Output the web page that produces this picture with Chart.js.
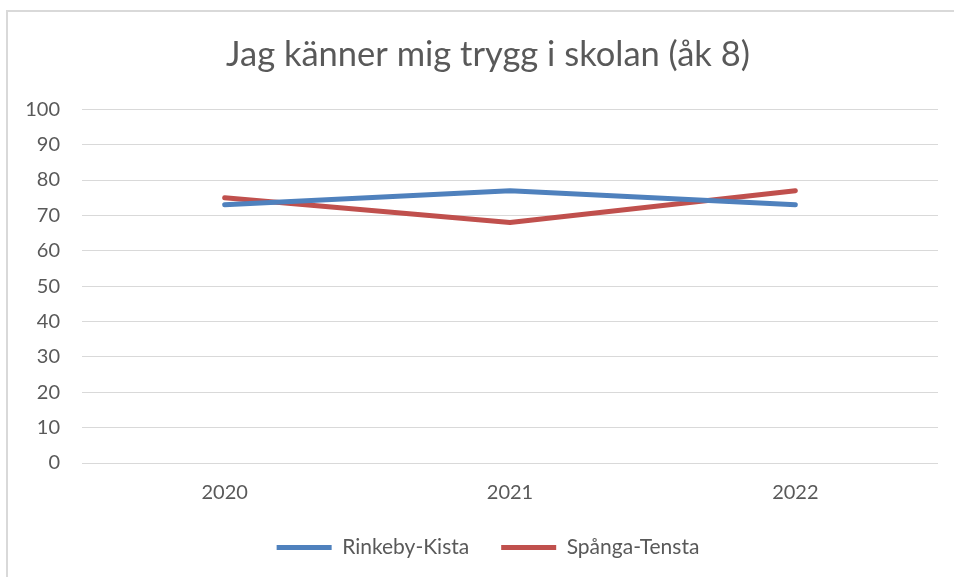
<!DOCTYPE html>
<html lang="sv">
<head>
<meta charset="utf-8">
<title>Jag känner mig trygg i skolan (åk 8)</title>
<script src="https://cdn.jsdelivr.net/npm/chart.js@4.4.1/dist/chart.umd.min.js"></script>
<style>
  html, body { margin: 0; padding: 0; background: #fff; overflow: hidden; }
  #wrap { position: relative; width: 954px; height: 577px; }
  #frame { position: absolute; left: 6px; top: 10px; width: 1000px; height: 600px; border: 2px solid #d9d9d9; box-sizing: border-box; }
  #graf { position: absolute; left: 0; top: 0; }
</style>
</head>
<body>
<div id="wrap">
  <div id="frame"></div>
  <canvas id="graf" width="954" height="577"></canvas>
</div>
<script>
// ── Data ─────────────────────────────
const years        = ['2020', '2021', '2022'];
const rinkebyKista = [73, 77, 73];
const spangaTensta = [75, 68, 77];
const yMin = 0, yMax = 100, yStep = 10;

const TEXT = '#595959';
const GRID = '#d9d9d9';
const FONT = 'Lato, "Open Sans", sans-serif';

new Chart(document.getElementById('graf'), {
  type: 'line',
  data: {
    labels: years,
    datasets: [
      {
        label: 'Rinkeby-Kista',
        data: rinkebyKista,
        borderColor: '#4F81BD',
        backgroundColor: '#4F81BD',
        borderWidth: 5,
        borderCapStyle: 'round',
        borderJoinStyle: 'round',
        pointRadius: 0,
        tension: 0,
      },
      {
        label: 'Spånga-Tensta',
        data: spangaTensta,
        borderColor: '#C0504D',
        backgroundColor: '#C0504D',
        borderWidth: 5,
        borderCapStyle: 'round',
        borderJoinStyle: 'round',
        pointRadius: 0,
        tension: 0,
      }
    ]
  },
  options: {
    responsive: false,
    animation: false,
    layout: { padding: { left: 22, right: 0, top: 0, bottom: 9 } },
    plugins: {
      title: {
        display: true,
        text: 'Jag känner mig trygg i skolan (åk 8)',
        color: TEXT,
        font: { family: FONT, size: 34.5, weight: 'normal' },
        padding: { top: 34.3, bottom: 33.6 }
      },
      legend: {
        position: 'bottom',
        labels: {
          color: TEXT,
          font: { family: FONT, size: 21 },
          usePointStyle: true,
          pointStyle: 'line',
          pointStyleWidth: 55,
          padding: 32
        }
      },
      tooltip: { enabled: false }
    },
    scales: {
      x: {
        offset: true,
        grid: { display: false, drawTicks: false },
        border: { display: false },
        ticks: { color: TEXT, font: { family: FONT, size: 20 }, padding: 18 },
        afterFit: s => { s.height = 42; }
      },
      y: {
        min: yMin,
        max: yMax,
        grid: { color: GRID, lineWidth: 1, drawTicks: false },
        border: { display: false },
        ticks: { stepSize: yStep, color: TEXT, font: { family: FONT, size: 20 }, padding: 22 },
        afterFit: s => { s.width = 60; }
      },
      // tom axel till höger, bara för marginalen
      yHoger: {
        position: 'right',
        grid: { display: false, drawTicks: false },
        border: { display: false },
        ticks: { display: false },
        afterFit: s => { s.width = 16; }
      }
    }
  }
});
</script>
</body>
</html>
